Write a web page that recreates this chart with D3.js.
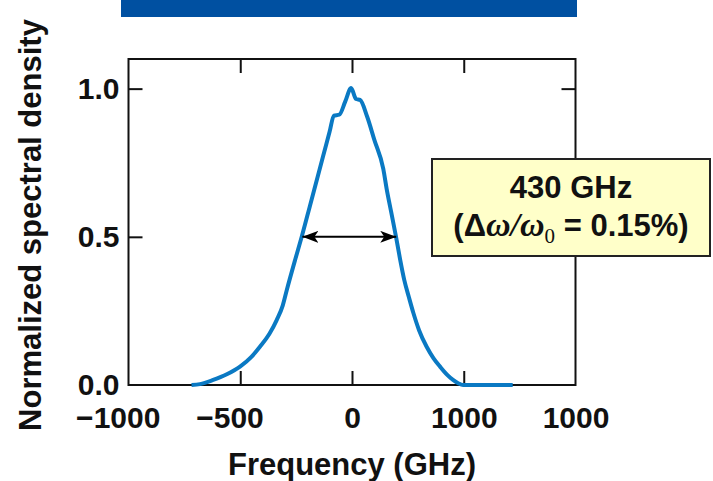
<!DOCTYPE html>
<html>
<head>
<meta charset="utf-8">
<script src="https://cdn.jsdelivr.net/npm/d3@7"></script>
<style>
  html, body { margin: 0; padding: 0; background: #fff; }
  svg { display: block; font-family: "Liberation Sans", Arial, Helvetica, sans-serif; }
</style>
</head>
<body>
<svg id="chart" width="713" height="481"></svg>
<script>
// Spectrum: frequency offset (GHz) and normalized density
const freqGHz = [-718, -680, -621, -560, -501, -450, -412, -370, -337, -310, -292, -255, -225,
  -188, -169, -130, -100, -81, -57, -30, -4, 18, 36, 68, 100, 140, 155, 175, 197, 215, 234,
  255, 275, 300, 334, 365, 394, 425, 452, 475, 497, 600, 719];
const spectralDensity = [0, 0.003, 0.017, 0.036, 0.062, 0.095, 0.129, 0.172, 0.219, 0.268,
  0.32, 0.421, 0.5, 0.605, 0.659, 0.77, 0.855, 0.909, 0.912, 0.957, 1.002, 0.965, 0.962,
  0.905, 0.827, 0.729, 0.662, 0.585, 0.5, 0.425, 0.354, 0.295, 0.242, 0.185, 0.129, 0.09,
  0.062, 0.035, 0.017, 0.006, 0, 0, 0];

// Axis ticks (labels kept exactly as printed in the figure)
const xTickValues = [-1000, -500, 0, 500, 1000];
const xTickLabels = ['\u22121000', '\u2212500', '0', '1000', '1000'];
const yTickValues = [0, 0.5, 1.0];

// FWHM marker
const fwhmEnds = [-222, 198];
const fwhmLevel = 0.5;
const boxLine1 = '430 GHz';

const width = 713;
const height = 481;
const margin = { top: 59, left: 128.5, right: width - 575.5, bottom: height - 385 };

const svg = d3.select('#chart');

// blue title bar at the top (title itself is cut off)
svg.append('rect')
  .attr('x', 121).attr('y', 0)
  .attr('width', 456).attr('height', 17)
  .attr('fill', '#0050a1');

const x = d3.scaleLinear().domain([-1000, 1000]).range([margin.left, width - margin.right]);
const y = d3.scaleLinear().domain([0, 1.1]).range([height - margin.bottom, margin.top]);

const tickLen = 14;
const axisStyle = (g) => {
  g.select('.domain').remove();
  g.selectAll('line').attr('stroke', '#111').attr('stroke-width', 2);
  g.selectAll('text')
    .attr('fill', '#111')
    .attr('font-size', 30)
    .attr('font-weight', 'bold');
};

// bottom axis
svg.append('g')
  .attr('transform', `translate(0,${y(0)})`)
  .call(d3.axisBottom(x).tickValues(xTickValues)
    .tickSizeInner(-tickLen).tickSizeOuter(0).tickPadding(22)
    .tickFormat((d, i) => xTickLabels[i]))
  .call(axisStyle)
  .call((g) => g.selectAll('.tick line').filter((d) => Math.abs(d) === 1000).remove())
  .call((g) => g.selectAll('.tick text').each(function hangMinus() {
    // the minus sign hangs to the left of the centred digits
    const t = this.textContent;
    if (t.startsWith('\u2212')) {
      d3.select(this).attr('dx', -this.getSubStringLength(0, 1) / 2 - 2);
    }
  }));

// top axis, ticks only
svg.append('g')
  .attr('transform', `translate(0,${y(1.1)})`)
  .call(d3.axisTop(x).tickValues([-500, 0, 500])
    .tickSizeInner(-tickLen).tickSizeOuter(0).tickFormat(''))
  .call(axisStyle);

// left axis
svg.append('g')
  .attr('transform', `translate(${x(-1000)},0)`)
  .call(d3.axisLeft(y).tickValues(yTickValues)
    .tickSizeInner(-tickLen).tickSizeOuter(0).tickPadding(9)
    .tickFormat(d3.format('.1f')))
  .call(axisStyle)
  .call((g) => g.selectAll('.tick line').filter((d) => d === 0).remove());

// right axis, ticks only
svg.append('g')
  .attr('transform', `translate(${x(1000)},0)`)
  .call(d3.axisRight(y).tickValues([0.5, 1.0])
    .tickSizeInner(-tickLen).tickSizeOuter(0).tickFormat(''))
  .call(axisStyle);

// frame
svg.append('rect')
  .attr('x', x(-1000)).attr('y', y(1.1))
  .attr('width', x(1000) - x(-1000)).attr('height', y(0) - y(1.1))
  .attr('fill', 'none').attr('stroke', '#111').attr('stroke-width', 2);

// spectrum
const points = freqGHz.map((f, i) => [f, spectralDensity[i]]);
const line = d3.line()
  .x((d) => x(d[0]))
  .y((d) => y(d[1]))
  .curve(d3.curveMonotoneX);

svg.append('path')
  .datum(points)
  .attr('d', line)
  .attr('fill', 'none')
  .attr('stroke', '#0a79c3')
  .attr('stroke-width', 4)
  .attr('stroke-linejoin', 'round');

// FWHM double arrow
const defs = svg.append('defs');
defs.append('marker')
  .attr('id', 'head')
  .attr('viewBox', '0 0 16 12')
  .attr('refX', 16).attr('refY', 6)
  .attr('markerWidth', 16).attr('markerHeight', 12)
  .attr('markerUnits', 'userSpaceOnUse')
  .attr('orient', 'auto-start-reverse')
  .append('path')
  .attr('d', 'M0,0 L16,6 L0,12 L4,6 Z')
  .attr('fill', '#000');

svg.append('line')
  .attr('x1', x(fwhmEnds[0])).attr('x2', x(fwhmEnds[1]))
  .attr('y1', y(fwhmLevel)).attr('y2', y(fwhmLevel))
  .attr('stroke', '#000').attr('stroke-width', 2)
  .attr('marker-start', 'url(#head)')
  .attr('marker-end', 'url(#head)');

// annotation box
const serif = '"Liberation Serif", "DejaVu Serif", serif';
const box = svg.append('g');
box.append('rect')
  .attr('x', 432).attr('y', 159)
  .attr('width', 278).attr('height', 97)
  .attr('fill', '#ffffc9')
  .attr('stroke', '#222').attr('stroke-width', 2);

box.append('text')
  .attr('x', 571).attr('y', 198)
  .attr('text-anchor', 'middle')
  .attr('font-size', 31).attr('font-weight', 'bold').attr('fill', '#111')
  .text(boxLine1);

const l2 = box.append('text')
  .attr('x', 571).attr('y', 236)
  .attr('text-anchor', 'middle')
  .attr('font-size', 31).attr('font-weight', 'bold').attr('fill', '#111');
l2.append('tspan').text('(\u0394');
l2.append('tspan').attr('font-family', serif).attr('font-style', 'italic')
  .attr('font-size', 34).text('\u03c9/\u03c9');
l2.append('tspan').attr('font-family', serif)
  .attr('font-weight', 'normal').attr('font-size', 21).attr('dy', 7).text('0');
l2.append('tspan').attr('dy', -7).text(' = 0.15%)');

// axis titles
svg.append('text')
  .attr('x', x(0)).attr('y', 475)
  .attr('text-anchor', 'middle')
  .attr('font-size', 31).attr('font-weight', 'bold').attr('fill', '#111')
  .text('Frequency (GHz)');

svg.append('text')
  .attr('transform', 'translate(41,225) rotate(-90)')
  .attr('text-anchor', 'middle')
  .attr('font-size', 31).attr('font-weight', 'bold').attr('fill', '#111')
  .text('Normalized spectral density');
</script>
</body>
</html>
